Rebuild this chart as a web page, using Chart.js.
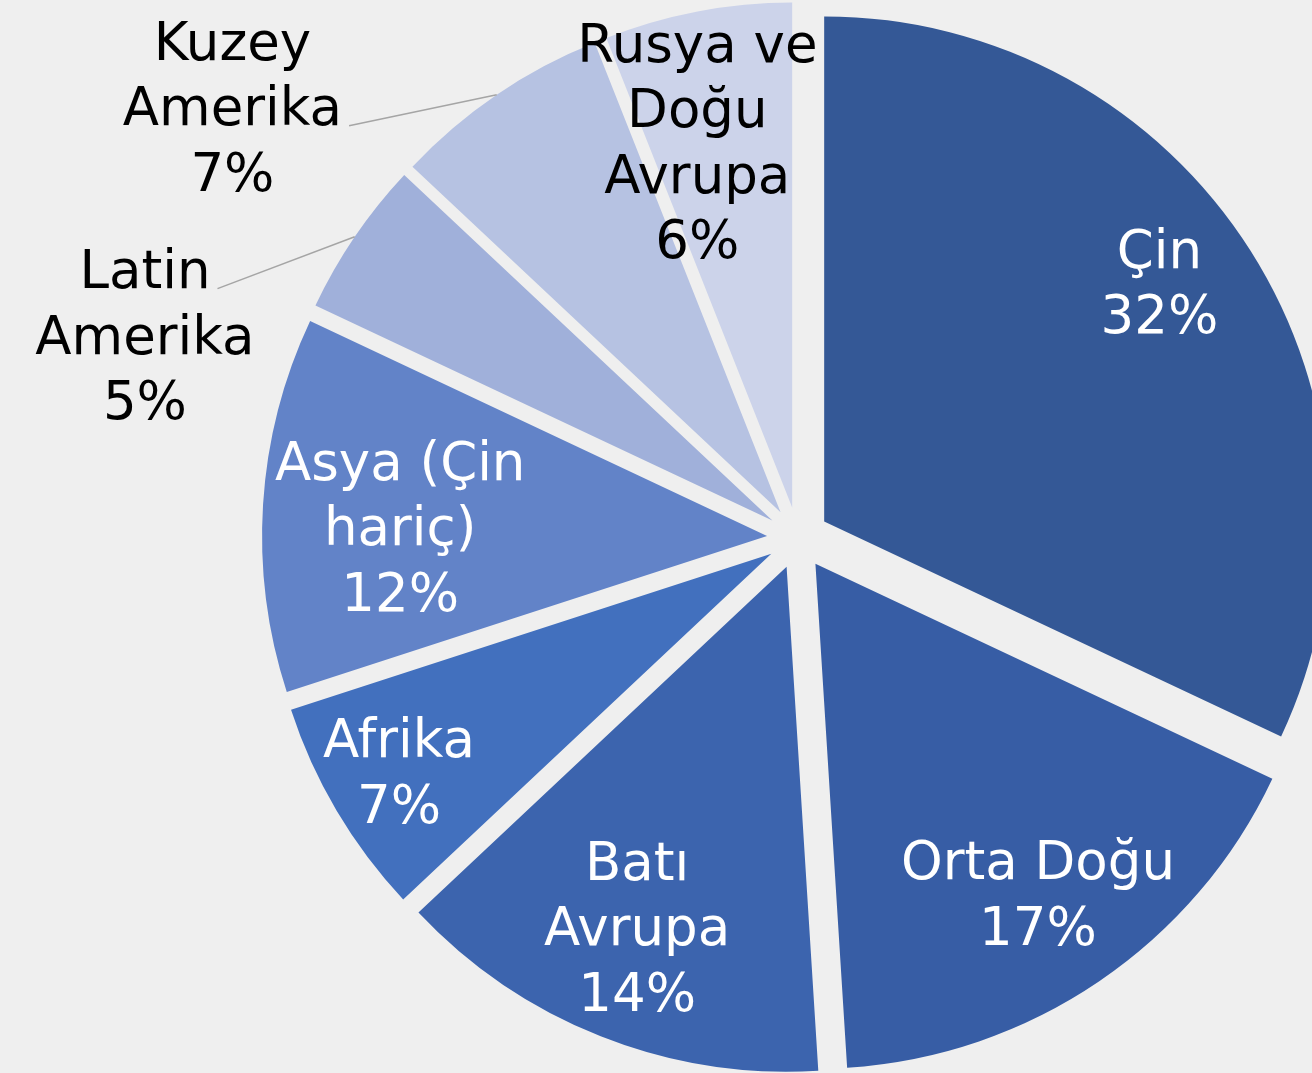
<!DOCTYPE html>
<html><head><meta charset="utf-8">
<script src="https://cdn.jsdelivr.net/npm/chart.js@4"></script>
<style>
html,body{margin:0;padding:0;background:#efefef;}
#wrap{width:1312px;height:1073px;position:relative;overflow:hidden;}
</style></head><body>
<div id="wrap"><canvas id="c"></canvas></div>
<script>
// ---- data ----
const categories = ['Çin','Orta Doğu','Batı Avrupa','Afrika','Asya (Çin hariç)','Latin Amerika','Kuzey Amerika','Rusya ve Doğu Avrupa'];
const shares = [32,17,14,7,12,5,7,6];
const labelLines = [['Çin'],['Orta Doğu'],['Batı','Avrupa'],['Afrika'],['Asya (Çin','hariç)'],['Latin','Amerika'],['Kuzey','Amerika'],['Rusya ve','Doğu','Avrupa']];

// ---- styles / layout ----
const sliceColors = ['#345896','#375da5','#3c64ae','#4270be','#6283c8','#a0b0da','#b6c2e2','#ccd3ea'];
const labelColors = ['#ffffff','#ffffff','#ffffff','#ffffff','#ffffff','#000000','#000000','#000000'];
const labelAngle = [54.9,146.1,202.4,239.5,271.4,287.1,307.2,345.7]; // deg clockwise from top
const labelDist  = [0.875,0.852,0.836,0.917,0.788,1.353,1.406,0.807]; // fraction of radius
const leaderLine = [-1,-1,-1,-1,-1,0,1,-1];
const EXPLODE = 31, LINE_H = 65.5, TEXT_DY = 3, FONT = '53px "DejaVu Sans"';

const explodePlugin = {
  id:'explode',
  afterDatasetUpdate(chart, args){
    const meta = chart.getDatasetMeta(args.index);
    meta.data.forEach(arc=>{
      const mid = (arc.startAngle+arc.endAngle)/2;
      arc._cx = arc.x; arc._cy = arc.y;
      arc.x = arc._cx + Math.cos(mid)*EXPLODE;
      arc.y = arc._cy + Math.sin(mid)*EXPLODE;
    });
  }
};
const labelPlugin = {
  id:'labels',
  afterDatasetsDraw(chart){
    const ctx = chart.ctx;
    const meta = chart.getDatasetMeta(0);
    const a0 = meta.data[0];
    const cx = a0._cx, cy = a0._cy, R = a0.outerRadius;
    ctx.save();
    ctx.font = FONT;
    ctx.textAlign = 'center'; ctx.textBaseline = 'middle';
    meta.data.forEach((arc,i)=>{
      const a = labelAngle[i]*Math.PI/180;
      const lx = cx + Math.sin(a)*labelDist[i]*R;
      const ly = cy - Math.cos(a)*labelDist[i]*R + TEXT_DY;
      const lines = labelLines[i].concat(shares[i]+'%');
      const top = ly - (lines.length-1)*LINE_H/2;
      ctx.fillStyle = labelColors[i];
      lines.forEach((t,k)=>ctx.fillText(t, lx, top+k*LINE_H));
      if (leaderLine[i] >= 0){
        const k = leaderLine[i];
        const w = ctx.measureText(lines[k]).width;
        const ex = lx + w/2 + 7, ey = top + k*LINE_H + 14;
        const mid = (arc.startAngle+arc.endAngle)/2;
        const sx = arc.x + Math.cos(mid)*R, sy = arc.y + Math.sin(mid)*R;
        ctx.strokeStyle = '#a5a5a5'; ctx.lineWidth = 1.5;
        ctx.beginPath(); ctx.moveTo(sx,sy); ctx.lineTo(ex,ey); ctx.stroke();
      }
    });
    ctx.restore();
  }
};

new Chart(document.getElementById('c'), {
  type:'pie',
  data:{ labels:categories, datasets:[{ data:shares, backgroundColor:sliceColors, borderWidth:0 }] },
  options:{
    responsive:true, maintainAspectRatio:false, animation:false, events:[],
    radius:505,
    layout:{ padding:{ left:284, right:0, top:3, bottom:0 } },
    plugins:{ legend:{display:false}, tooltip:{enabled:false} }
  },
  plugins:[explodePlugin, labelPlugin]
});
</script>
</body></html>
